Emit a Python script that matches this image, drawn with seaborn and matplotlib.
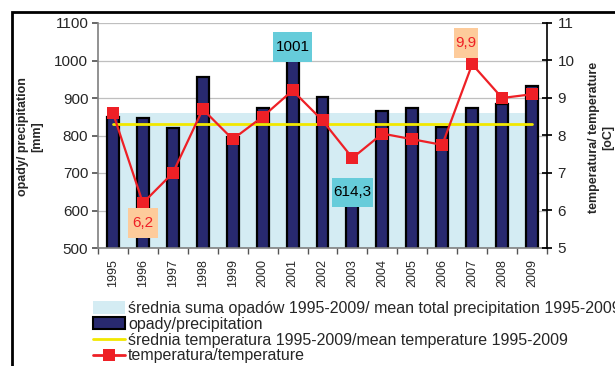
import numpy as np
import pandas as pd
import matplotlib
matplotlib.use("Agg")
import matplotlib.pyplot as plt
import seaborn as sns
from matplotlib.patches import Patch, Rectangle
from matplotlib.lines import Line2D
from matplotlib.offsetbox import DrawingArea, AnnotationBbox
from matplotlib.text import Text

# ---- dane ----
years = [str(y) for y in range(1995, 2010)]
precip = [849, 848, 820, 956, 796, 873, 1001, 903, 614.3, 866, 873, 823, 873, 884, 932]
temp = [8.6, 6.2, 7.0, 8.7, 7.9, 8.5, 9.2, 8.4, 7.4, 8.05, 7.9, 7.75, 9.9, 9.0, 9.1]
mean_precip = 860
mean_temp = 8.3

legend_labels = [
    "średnia suma opadów 1995-2009/ mean total precipitation 1995-2009",
    "opady/precipitation",
    "średnia temperatura 1995-2009/mean temperature 1995-2009",
    "temperatura/temperature",
]

# ---- kolory ----
NAVY = "#28296F"
BAND = "#D4ECF3"
YELLOW = "#F2E800"
RED = "#EE2026"
CYAN = "#66CCDA"
PEACH = "#FDCB9B"


def value_box(axis, x, y, text, fc, tc, w, h):
    # prostokątna etykieta o zadanym rozmiarze (w punktach)
    da = DrawingArea(w, h, 0, 0)
    da.add_artist(Rectangle((0, 0), w, h, fc=fc, ec="none"))
    da.add_artist(Text(w / 2, h / 2, text, ha="center", va="center",
                       fontsize=11, color=tc))
    ab = AnnotationBbox(da, (x, y), xycoords="data", frameon=False,
                        box_alignment=(0.5, 0.5), pad=0, zorder=5)
    axis.add_artist(ab)


sns.set_theme(style="white")
plt.rcParams['font.family'] = ['Liberation Sans', 'DejaVu Sans']

df = pd.DataFrame({"year": years, "precip": precip, "temp": temp})
df["pos"] = np.arange(len(df))

fig = plt.figure(figsize=(6.15, 3.66), dpi=100)
ax = fig.add_axes([98 / 615, 1 - 248 / 366, 449 / 615, 225 / 366])

# pasmo średniej sumy opadów
ax.fill_between(df["pos"], 500, mean_precip, color=BAND, lw=0, zorder=1)

sns.barplot(data=df, x="year", y="precip", ax=ax, color=NAVY, width=0.4,
            edgecolor="black", linewidth=1.6, saturation=1, zorder=2)

ax.set_ylim(500, 1100)
ax.set_yticks(np.arange(500, 1101, 100))
ax.set_xlim(-0.5, len(df) - 0.5)
ax.yaxis.grid(True, color="#BFBFBF", lw=0.9)
ax.set_axisbelow(True)
ax.set_xlabel("")
ax.set_ylabel("")
for s in ["top", "right"]:
    ax.spines[s].set_visible(False)
for s in ["left", "bottom"]:
    ax.spines[s].set_color("#7F7F7F")
    ax.spines[s].set_linewidth(1.2)
ax.tick_params(axis="y", left=True, direction="out", length=4, color="#555555",
               labelsize=11, pad=3)
ax.tick_params(axis="x", which="major", length=0, labelsize=9, pad=8, rotation=90)
ax.set_xticks(np.arange(-0.5, len(df), 1), minor=True)
ax.tick_params(axis="x", which="minor", bottom=True, direction="out", length=4,
               color="#555555")

# etykiety opadów
value_box(ax, 6, 1036, "1001", CYAN, "black", 28, 22)
value_box(ax, 8, 649, "614,3", CYAN, "black", 29, 21)

# ---- temperatura (oś prawa) ----
ax2 = ax.twinx()
sns.lineplot(x=[df["pos"].iloc[0], df["pos"].iloc[-1]], y=[mean_temp, mean_temp],
             ax=ax2, color=YELLOW, lw=2)
sns.lineplot(data=df, x="pos", y="temp", ax=ax2, color=RED, lw=1.6, marker="s",
             markersize=8, markeredgecolor=RED, markeredgewidth=0)
ax2.set_ylim(5, 11)
ax2.set_yticks(np.arange(5, 12, 1))
ax2.set_xlim(-0.5, len(df) - 0.5)
ax2.set_xlabel("")
ax2.set_ylabel("")
for s in ["top", "left", "bottom"]:
    ax2.spines[s].set_visible(False)
ax2.spines["right"].set_color("black")
ax2.spines["right"].set_linewidth(1.2)
ax2.tick_params(axis="y", right=True, direction="inout", length=7, color="black",
                labelsize=11, pad=4)

value_box(ax2, 1, 5.67, "6,2", PEACH, RED, 22, 22)
value_box(ax2, 11.8, 10.47, "9,9", PEACH, RED, 17, 22)

# opisy osi
fig.text(30 / 615, 1 - 137 / 366, "opady/ precipitation\n[mm]", rotation=90,
         ha="center", va="center", fontsize=9, fontweight="bold", linespacing=1.2)
fig.text(601 / 615, 1 - 137 / 366, "temperatura/ temperature\n[oC]", rotation=90,
         ha="center", va="center", fontsize=9, fontweight="bold", linespacing=1.2)

# legenda
handles = [
    Patch(facecolor=BAND, edgecolor="none"),
    Patch(facecolor=NAVY, edgecolor="black", linewidth=1.5),
    Line2D([], [], color=YELLOW, lw=2),
    Line2D([], [], color=RED, lw=2, marker="s", markersize=8, markeredgewidth=0),
]
fig.legend(handles, legend_labels, loc="upper left",
           bbox_to_anchor=(93 / 615, 1 - 301 / 366), frameon=False, fontsize=11.5,
           handlelength=2.0, handleheight=0.8, handletextpad=0.2,
           labelspacing=0.05, borderpad=0, borderaxespad=0)

# ramka całego wykresu
fig.patches.append(Rectangle((12 / 615, -0.2), 2.0, 1.2 - 12 / 366,
                             transform=fig.transFigure, fill=False, ec="black",
                             lw=2, clip_on=False))

fig.savefig("out.png", dpi=100)
